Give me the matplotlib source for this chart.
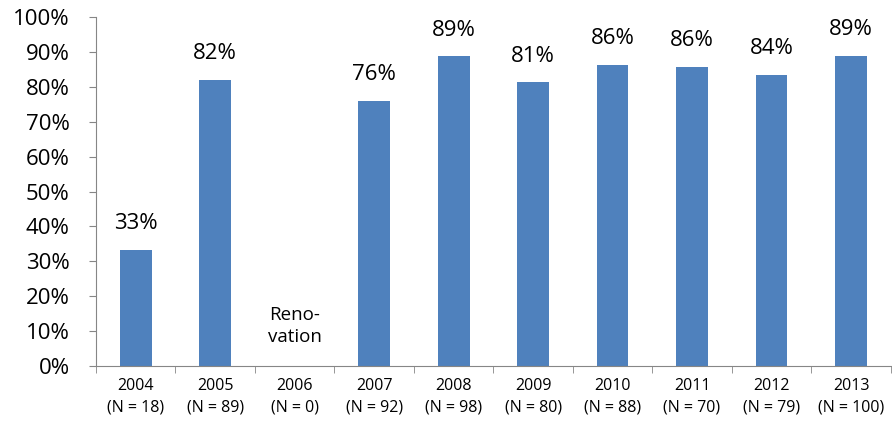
import matplotlib.pyplot as plt
import numpy as np

plt.rcParams['font.family'] = ['Open Sans', 'DejaVu Sans']

years = ['2004', '2005', '2006', '2007', '2008', '2009', '2010', '2011', '2012', '2013']
counts = [18, 89, 0, 92, 98, 80, 88, 70, 79, 100]
rates = [33.3, 82.0, np.nan, 76.1, 88.8, 81.3, 86.4, 85.7, 83.5, 89.0]
labels = ['33%', '82%', '', '76%', '89%', '81%', '86%', '86%', '84%', '89%']

fig = plt.figure(figsize=(8.92, 4.30), dpi=100)
ax = fig.add_axes([0.1076, 0.149, 0.891, 0.811])

x = np.arange(len(years))
heights = [0 if np.isnan(r) else r for r in rates]
ax.bar(x, heights, width=0.4, color='#4F81BD')

for xi, h, lab in zip(x, heights, labels):
    if lab:
        ax.text(xi, h + 4.5, lab, ha='center', va='bottom', fontsize=16)

ax.text(2, 11.5, 'Reno-\nvation', ha='center', va='center', fontsize=13.5, linespacing=1.3)

ax.set_xlim(-0.5, len(years) - 0.5)
ax.set_ylim(0, 100)
ax.set_yticks(range(0, 101, 10))
ax.set_yticklabels([f'{v}%' for v in range(0, 101, 10)], fontsize=16)
ax.yaxis.set_tick_params(length=5, color='#868686', pad=14)

ax.set_xticks(x)
ax.set_xticklabels([f'{y}\n(N = {n})' for y, n in zip(years, counts)], fontsize=11.5,
                   linespacing=1.45)
ax.tick_params(axis='x', length=0, pad=9)
ax.set_xticks(np.arange(-0.5, len(years)), minor=True)
ax.tick_params(axis='x', which='minor', length=5, color='#868686')

for s in ['top', 'right']:
    ax.spines[s].set_visible(False)
for s in ['left', 'bottom']:
    ax.spines[s].set_color('#868686')

fig.savefig('out.png', dpi=100)
